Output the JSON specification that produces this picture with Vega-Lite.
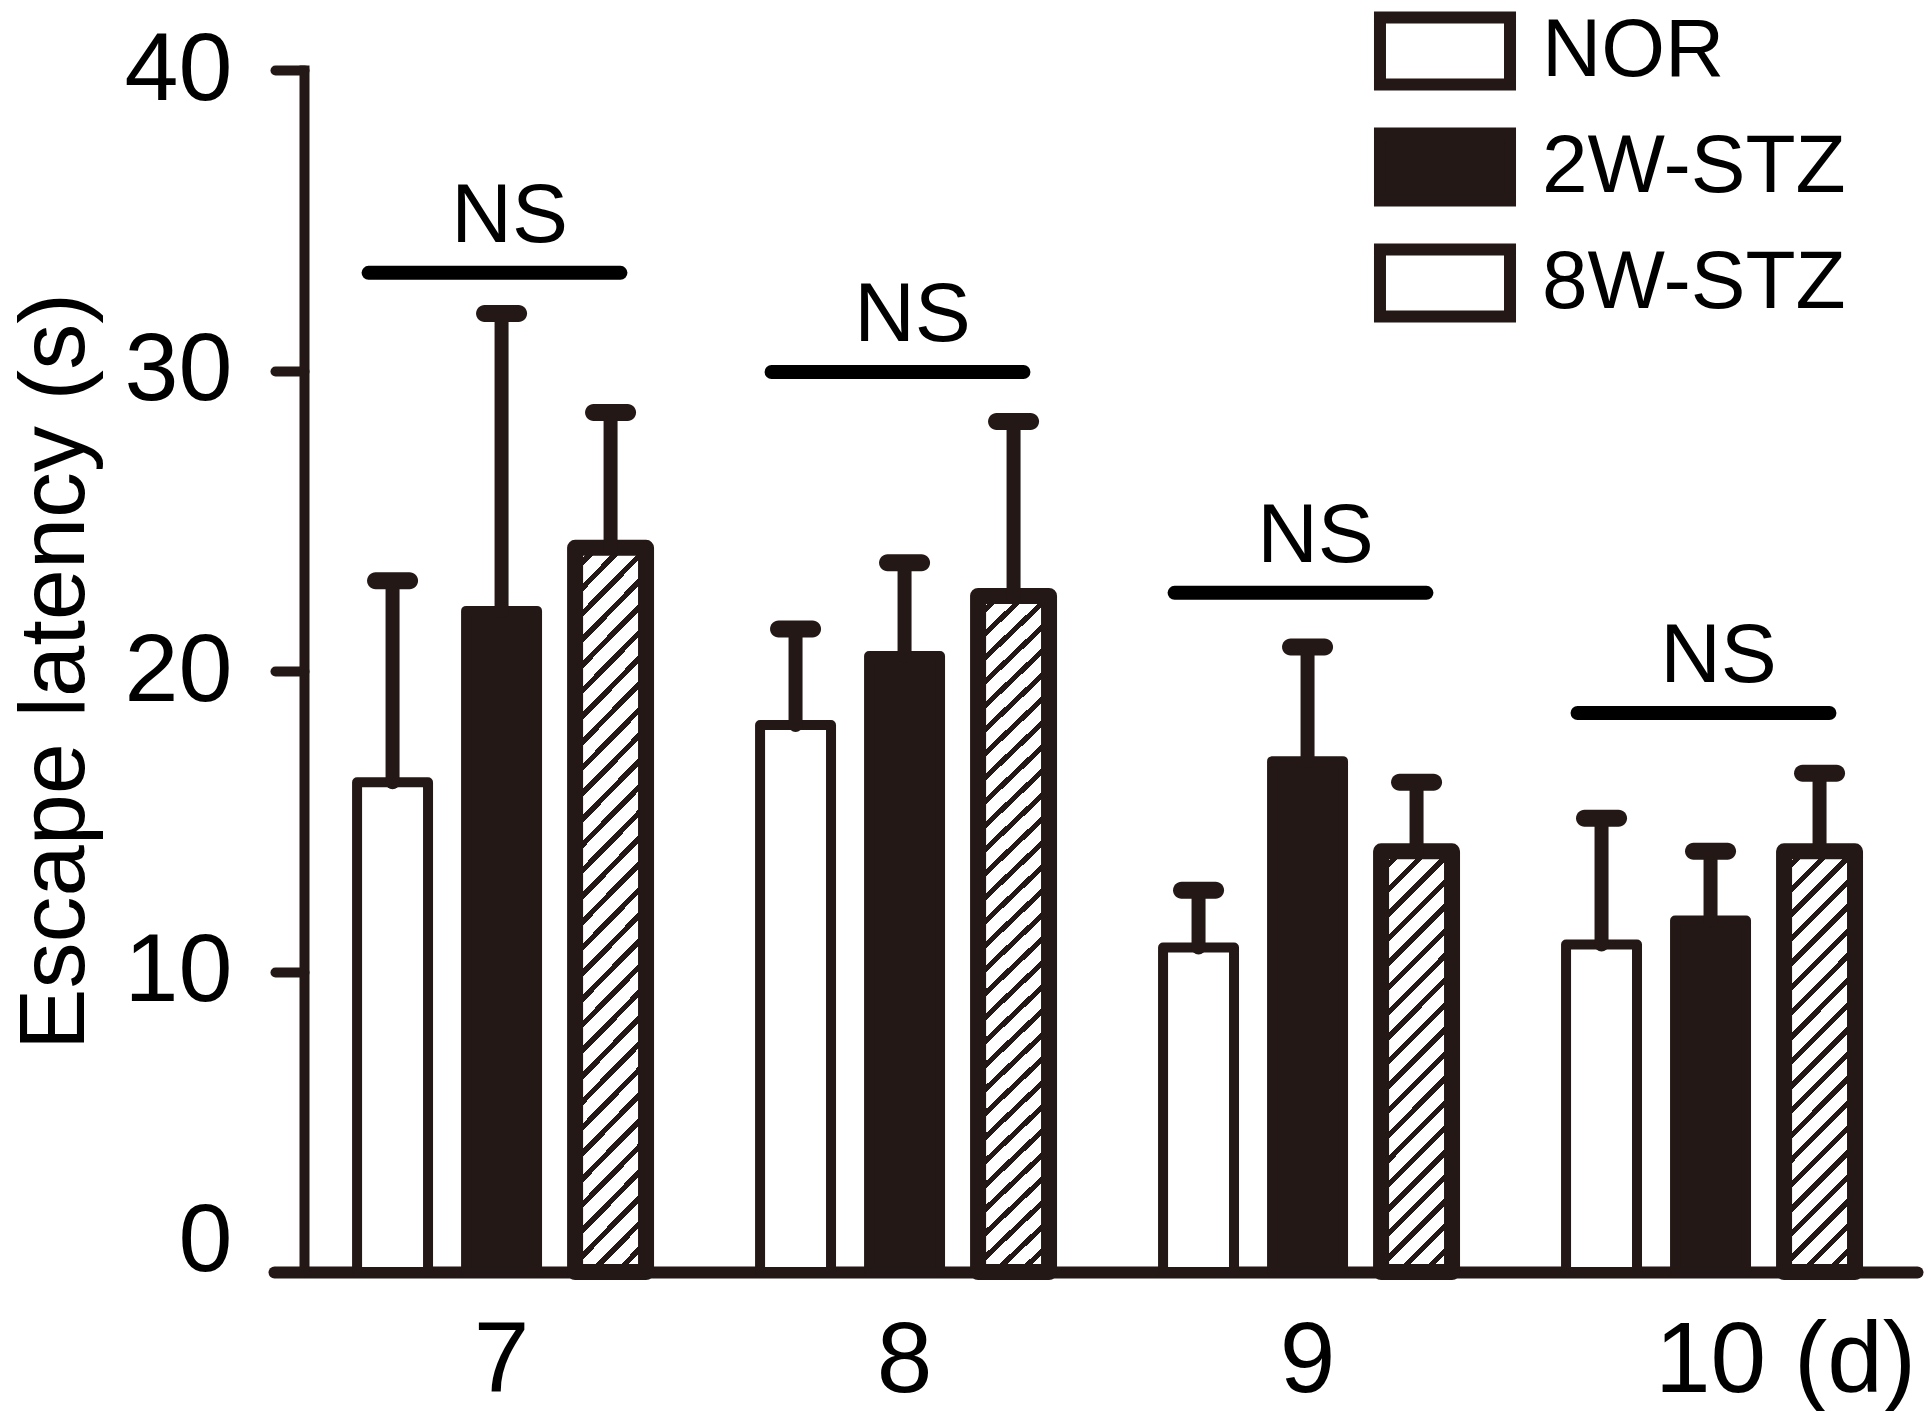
{
  "$schema": "https://vega.github.io/schema/vega-lite/v6.json",
  "autosize": {"type": "none"},
  "padding": {"left": 274, "top": 70, "right": 14, "bottom": 139},
  "width": 1643,
  "height": 1202,
  "background": "white",
  "config": {
    "view": {"stroke": null},
    "font": "Liberation Sans",
    "axis": {"grid": false}
  },
  "resolve": {"axis": {"x": "independent", "y": "independent"}},
  "datasets": {
    "latency": [
      {"day": 7, "group": "NOR", "mean": 16.3, "upper": 23.0},
      {"day": 7, "group": "2W-STZ", "mean": 22.0, "upper": 31.9},
      {"day": 7, "group": "8W-STZ", "mean": 24.1, "upper": 28.6},
      {"day": 8, "group": "NOR", "mean": 18.2, "upper": 21.4},
      {"day": 8, "group": "2W-STZ", "mean": 20.5, "upper": 23.6},
      {"day": 8, "group": "8W-STZ", "mean": 22.5, "upper": 28.3},
      {"day": 9, "group": "NOR", "mean": 10.8, "upper": 12.7},
      {"day": 9, "group": "2W-STZ", "mean": 17.0, "upper": 20.8},
      {"day": 9, "group": "8W-STZ", "mean": 14.0, "upper": 16.3},
      {"day": 10, "group": "NOR", "mean": 10.9, "upper": 15.1},
      {"day": 10, "group": "2W-STZ", "mean": 11.7, "upper": 14.0},
      {"day": 10, "group": "8W-STZ", "mean": 14.0, "upper": 16.6}
    ],
    "ns": [
      {"day": 7, "y": 33.25, "label": "NS"},
      {"day": 8, "y": 29.95, "label": "NS"},
      {"day": 9, "y": 22.6, "label": "NS"},
      {"day": 10, "y": 18.6, "label": "NS"}
    ]
  },
  "layer": [
    {
      "data": {"name": "latency"},
      "mark": {"type": "bar", "stroke": "#231815", "strokeJoin": "round"},
      "encoding": {
        "x": {
          "field": "day",
          "type": "ordinal",
          "title": null,
          "scale": {"paddingInner": 0, "paddingOuter": 0.0385, "align": 0.84},
          "axis": {
            "domainColor": "#231815",
            "domainWidth": 12,
            "domainCap": "round",
            "ticks": false,
            "labelAngle": 0,
            "labelFont": "Liberation Sans",
            "labelFontSize": 100,
            "labelColor": "#000000",
            "labelPadding": 40,
            "labelLimit": 500,
            "labelExpr": "datum.value == 10 ? '' : datum.label"
          }
        },
        "xOffset": {
          "field": "group",
          "type": "nominal",
          "scale": {"domain": ["NOR", "2W-STZ", "8W-STZ"], "paddingInner": 0.349, "paddingOuter": 0.523}
        },
        "y": {
          "field": "mean",
          "type": "quantitative",
          "scale": {"domain": [0, 40], "nice": false},
          "axis": {
            "orient": "left",
            "values": [10, 20, 30, 40],
            "offset": -30,
            "domainColor": "#231815",
            "domainWidth": 10,
            "domainCap": "square",
            "tickColor": "#231815",
            "tickWidth": 10,
            "tickSize": 29,
            "tickCap": "round",
            "labelFont": "Liberation Sans",
            "labelFontSize": 97,
            "labelColor": "#000000",
            "labelPadding": 43,
            "title": "Escape latency (s)",
            "titleFont": "Liberation Sans",
            "titleFontSize": 92,
            "titleFontWeight": "normal",
            "titleColor": "#000000",
            "titlePadding": 22
          }
        },
        "strokeWidth": {"condition": {"test": "datum.group === '8W-STZ'", "value": 16}, "value": 10},
        "fill": {
          "field": "group",
          "type": "nominal",
          "scale": {"domain": ["NOR", "2W-STZ", "8W-STZ"], "range": ["#ffffff", "#231815", "#ffffff"]},
          "condition": [
            {
              "test": "datum.group === '8W-STZ' && datum.day <= 8",
              "value": {
                "gradient": "linear", "x1": 0, "y1": 0, "x2": 0.1089, "y2": 1.0891,
                "stops": [
                  {"offset": 0, "color": "#ffffff"}, {"offset": 0.0226, "color": "#ffffff"}, {"offset": 0.0226, "color": "#231815"}, {"offset": 0.0323, "color": "#231815"},
                  {"offset": 0.0323, "color": "#ffffff"}, {"offset": 0.0548, "color": "#ffffff"}, {"offset": 0.0548, "color": "#231815"}, {"offset": 0.0645, "color": "#231815"},
                  {"offset": 0.0645, "color": "#ffffff"}, {"offset": 0.0871, "color": "#ffffff"}, {"offset": 0.0871, "color": "#231815"}, {"offset": 0.0968, "color": "#231815"},
                  {"offset": 0.0968, "color": "#ffffff"}, {"offset": 0.1194, "color": "#ffffff"}, {"offset": 0.1194, "color": "#231815"}, {"offset": 0.129, "color": "#231815"},
                  {"offset": 0.129, "color": "#ffffff"}, {"offset": 0.1516, "color": "#ffffff"}, {"offset": 0.1516, "color": "#231815"}, {"offset": 0.1613, "color": "#231815"},
                  {"offset": 0.1613, "color": "#ffffff"}, {"offset": 0.1839, "color": "#ffffff"}, {"offset": 0.1839, "color": "#231815"}, {"offset": 0.1935, "color": "#231815"},
                  {"offset": 0.1935, "color": "#ffffff"}, {"offset": 0.2161, "color": "#ffffff"}, {"offset": 0.2161, "color": "#231815"}, {"offset": 0.2258, "color": "#231815"},
                  {"offset": 0.2258, "color": "#ffffff"}, {"offset": 0.2484, "color": "#ffffff"}, {"offset": 0.2484, "color": "#231815"}, {"offset": 0.2581, "color": "#231815"},
                  {"offset": 0.2581, "color": "#ffffff"}, {"offset": 0.2806, "color": "#ffffff"}, {"offset": 0.2806, "color": "#231815"}, {"offset": 0.2903, "color": "#231815"},
                  {"offset": 0.2903, "color": "#ffffff"}, {"offset": 0.3129, "color": "#ffffff"}, {"offset": 0.3129, "color": "#231815"}, {"offset": 0.3226, "color": "#231815"},
                  {"offset": 0.3226, "color": "#ffffff"}, {"offset": 0.3452, "color": "#ffffff"}, {"offset": 0.3452, "color": "#231815"}, {"offset": 0.3548, "color": "#231815"},
                  {"offset": 0.3548, "color": "#ffffff"}, {"offset": 0.3774, "color": "#ffffff"}, {"offset": 0.3774, "color": "#231815"}, {"offset": 0.3871, "color": "#231815"},
                  {"offset": 0.3871, "color": "#ffffff"}, {"offset": 0.4097, "color": "#ffffff"}, {"offset": 0.4097, "color": "#231815"}, {"offset": 0.4194, "color": "#231815"},
                  {"offset": 0.4194, "color": "#ffffff"}, {"offset": 0.4419, "color": "#ffffff"}, {"offset": 0.4419, "color": "#231815"}, {"offset": 0.4516, "color": "#231815"},
                  {"offset": 0.4516, "color": "#ffffff"}, {"offset": 0.4742, "color": "#ffffff"}, {"offset": 0.4742, "color": "#231815"}, {"offset": 0.4839, "color": "#231815"},
                  {"offset": 0.4839, "color": "#ffffff"}, {"offset": 0.5065, "color": "#ffffff"}, {"offset": 0.5065, "color": "#231815"}, {"offset": 0.5161, "color": "#231815"},
                  {"offset": 0.5161, "color": "#ffffff"}, {"offset": 0.5387, "color": "#ffffff"}, {"offset": 0.5387, "color": "#231815"}, {"offset": 0.5484, "color": "#231815"},
                  {"offset": 0.5484, "color": "#ffffff"}, {"offset": 0.571, "color": "#ffffff"}, {"offset": 0.571, "color": "#231815"}, {"offset": 0.5806, "color": "#231815"},
                  {"offset": 0.5806, "color": "#ffffff"}, {"offset": 0.6032, "color": "#ffffff"}, {"offset": 0.6032, "color": "#231815"}, {"offset": 0.6129, "color": "#231815"},
                  {"offset": 0.6129, "color": "#ffffff"}, {"offset": 0.6355, "color": "#ffffff"}, {"offset": 0.6355, "color": "#231815"}, {"offset": 0.6452, "color": "#231815"},
                  {"offset": 0.6452, "color": "#ffffff"}, {"offset": 0.6677, "color": "#ffffff"}, {"offset": 0.6677, "color": "#231815"}, {"offset": 0.6774, "color": "#231815"},
                  {"offset": 0.6774, "color": "#ffffff"}, {"offset": 0.7, "color": "#ffffff"}, {"offset": 0.7, "color": "#231815"}, {"offset": 0.7097, "color": "#231815"},
                  {"offset": 0.7097, "color": "#ffffff"}, {"offset": 0.7323, "color": "#ffffff"}, {"offset": 0.7323, "color": "#231815"}, {"offset": 0.7419, "color": "#231815"},
                  {"offset": 0.7419, "color": "#ffffff"}, {"offset": 0.7645, "color": "#ffffff"}, {"offset": 0.7645, "color": "#231815"}, {"offset": 0.7742, "color": "#231815"},
                  {"offset": 0.7742, "color": "#ffffff"}, {"offset": 0.7968, "color": "#ffffff"}, {"offset": 0.7968, "color": "#231815"}, {"offset": 0.8065, "color": "#231815"},
                  {"offset": 0.8065, "color": "#ffffff"}, {"offset": 0.829, "color": "#ffffff"}, {"offset": 0.829, "color": "#231815"}, {"offset": 0.8387, "color": "#231815"},
                  {"offset": 0.8387, "color": "#ffffff"}, {"offset": 0.8613, "color": "#ffffff"}, {"offset": 0.8613, "color": "#231815"}, {"offset": 0.871, "color": "#231815"},
                  {"offset": 0.871, "color": "#ffffff"}, {"offset": 0.8935, "color": "#ffffff"}, {"offset": 0.8935, "color": "#231815"}, {"offset": 0.9032, "color": "#231815"},
                  {"offset": 0.9032, "color": "#ffffff"}, {"offset": 0.9258, "color": "#ffffff"}, {"offset": 0.9258, "color": "#231815"}, {"offset": 0.9355, "color": "#231815"},
                  {"offset": 0.9355, "color": "#ffffff"}, {"offset": 0.9581, "color": "#ffffff"}, {"offset": 0.9581, "color": "#231815"}, {"offset": 0.9677, "color": "#231815"},
                  {"offset": 0.9677, "color": "#ffffff"}, {"offset": 0.9903, "color": "#ffffff"}, {"offset": 0.9903, "color": "#231815"}, {"offset": 1, "color": "#231815"}
                ]
              }
            },
            {
              "test": "datum.group === '8W-STZ'",
              "value": {
                "gradient": "linear", "x1": 0, "y1": 0, "x2": 0.1921, "y2": 1.1365,
                "stops": [
                  {"offset": 0, "color": "#ffffff"}, {"offset": 0.035, "color": "#ffffff"}, {"offset": 0.035, "color": "#231815"}, {"offset": 0.05, "color": "#231815"},
                  {"offset": 0.05, "color": "#ffffff"}, {"offset": 0.085, "color": "#ffffff"}, {"offset": 0.085, "color": "#231815"}, {"offset": 0.1, "color": "#231815"},
                  {"offset": 0.1, "color": "#ffffff"}, {"offset": 0.135, "color": "#ffffff"}, {"offset": 0.135, "color": "#231815"}, {"offset": 0.15, "color": "#231815"},
                  {"offset": 0.15, "color": "#ffffff"}, {"offset": 0.185, "color": "#ffffff"}, {"offset": 0.185, "color": "#231815"}, {"offset": 0.2, "color": "#231815"},
                  {"offset": 0.2, "color": "#ffffff"}, {"offset": 0.235, "color": "#ffffff"}, {"offset": 0.235, "color": "#231815"}, {"offset": 0.25, "color": "#231815"},
                  {"offset": 0.25, "color": "#ffffff"}, {"offset": 0.285, "color": "#ffffff"}, {"offset": 0.285, "color": "#231815"}, {"offset": 0.3, "color": "#231815"},
                  {"offset": 0.3, "color": "#ffffff"}, {"offset": 0.335, "color": "#ffffff"}, {"offset": 0.335, "color": "#231815"}, {"offset": 0.35, "color": "#231815"},
                  {"offset": 0.35, "color": "#ffffff"}, {"offset": 0.385, "color": "#ffffff"}, {"offset": 0.385, "color": "#231815"}, {"offset": 0.4, "color": "#231815"},
                  {"offset": 0.4, "color": "#ffffff"}, {"offset": 0.435, "color": "#ffffff"}, {"offset": 0.435, "color": "#231815"}, {"offset": 0.45, "color": "#231815"},
                  {"offset": 0.45, "color": "#ffffff"}, {"offset": 0.485, "color": "#ffffff"}, {"offset": 0.485, "color": "#231815"}, {"offset": 0.5, "color": "#231815"},
                  {"offset": 0.5, "color": "#ffffff"}, {"offset": 0.535, "color": "#ffffff"}, {"offset": 0.535, "color": "#231815"}, {"offset": 0.55, "color": "#231815"},
                  {"offset": 0.55, "color": "#ffffff"}, {"offset": 0.585, "color": "#ffffff"}, {"offset": 0.585, "color": "#231815"}, {"offset": 0.6, "color": "#231815"},
                  {"offset": 0.6, "color": "#ffffff"}, {"offset": 0.635, "color": "#ffffff"}, {"offset": 0.635, "color": "#231815"}, {"offset": 0.65, "color": "#231815"},
                  {"offset": 0.65, "color": "#ffffff"}, {"offset": 0.685, "color": "#ffffff"}, {"offset": 0.685, "color": "#231815"}, {"offset": 0.7, "color": "#231815"},
                  {"offset": 0.7, "color": "#ffffff"}, {"offset": 0.735, "color": "#ffffff"}, {"offset": 0.735, "color": "#231815"}, {"offset": 0.75, "color": "#231815"},
                  {"offset": 0.75, "color": "#ffffff"}, {"offset": 0.785, "color": "#ffffff"}, {"offset": 0.785, "color": "#231815"}, {"offset": 0.8, "color": "#231815"},
                  {"offset": 0.8, "color": "#ffffff"}, {"offset": 0.835, "color": "#ffffff"}, {"offset": 0.835, "color": "#231815"}, {"offset": 0.85, "color": "#231815"},
                  {"offset": 0.85, "color": "#ffffff"}, {"offset": 0.885, "color": "#ffffff"}, {"offset": 0.885, "color": "#231815"}, {"offset": 0.9, "color": "#231815"},
                  {"offset": 0.9, "color": "#ffffff"}, {"offset": 0.935, "color": "#ffffff"}, {"offset": 0.935, "color": "#231815"}, {"offset": 0.95, "color": "#231815"},
                  {"offset": 0.95, "color": "#ffffff"}, {"offset": 0.985, "color": "#ffffff"}, {"offset": 0.985, "color": "#231815"}, {"offset": 1, "color": "#231815"}
                ]
              }
            }
          ],
          "legend": {
            "title": null,
            "orient": "none",
            "legendX": 1123,
            "legendY": -67,
            "symbolType": "M-1.548,-0.798H1.548V0.798H-1.548Z",
            "symbolSize": 7056,
            "symbolStrokeWidth": 12,
            "labelFont": "Liberation Sans",
            "labelFontSize": 82,
            "labelColor": "#000000",
            "labelLimit": 600,
            "labelOffset": 49,
            "rowPadding": 0
          }
        }
      }
    },
    {
      "data": {"name": "latency"},
      "mark": {"type": "rule", "strokeWidth": 14, "strokeCap": "round", "color": "#231815"},
      "encoding": {
        "x": {
          "field": "day",
          "type": "ordinal",
          "title": null,
          "axis": {
            "orient": "bottom",
            "values": [10],
            "domain": false,
            "ticks": false,
            "labelAngle": 0,
            "labelFont": "Liberation Sans",
            "labelFontSize": 100,
            "labelColor": "#000000",
            "labelPadding": 40,
            "labelLimit": 500,
            "labelOffset": 75,
            "labelExpr": "'10 (d)'"
          }
        },
        "xOffset": {"field": "group", "type": "nominal", "scale": {"domain": ["NOR", "2W-STZ", "8W-STZ"], "paddingInner": 0.349, "paddingOuter": 0.523}},
        "y": {
          "field": "mean",
          "type": "quantitative",
          "axis": {
            "orient": "left",
            "values": [0],
            "offset": -30,
            "domain": false,
            "tickColor": "#231815",
            "tickWidth": 10,
            "tickSize": 29,
            "tickCap": "round",
            "labelFont": "Liberation Sans",
            "labelFontSize": 97,
            "labelColor": "#000000",
            "labelPadding": 43,
            "labelOffset": -31,
            "title": null
          }
        },
        "y2": {"field": "upper"}
      }
    },
    {
      "data": {"name": "latency"},
      "mark": {"type": "tick", "thickness": 17, "size": 51, "cornerRadius": 8.5, "color": "#231815", "opacity": 1},
      "encoding": {
        "x": {"field": "day", "type": "ordinal", "axis": null},
        "xOffset": {"field": "group", "type": "nominal", "scale": {"domain": ["NOR", "2W-STZ", "8W-STZ"], "paddingInner": 0.349, "paddingOuter": 0.523}},
        "y": {"field": "upper", "type": "quantitative", "axis": null}
      }
    },
    {
      "data": {"name": "ns"},
      "mark": {"type": "rule", "strokeWidth": 14, "strokeCap": "round", "color": "#000000"},
      "encoding": {
        "x": {"field": "day", "type": "ordinal", "bandPosition": 0.17, "axis": null},
        "x2": {"field": "day", "bandPosition": 0.795},
        "y": {"field": "y", "type": "quantitative", "axis": null}
      }
    },
    {
      "data": {"name": "ns"},
      "mark": {"type": "text", "font": "Liberation Sans", "fontSize": 84, "baseline": "alphabetic", "align": "center", "dy": -31, "dx": 8, "color": "#000000"},
      "encoding": {
        "x": {"field": "day", "type": "ordinal", "axis": null},
        "y": {"field": "y", "type": "quantitative", "axis": null},
        "text": {"field": "label"}
      }
    }
  ]
}
